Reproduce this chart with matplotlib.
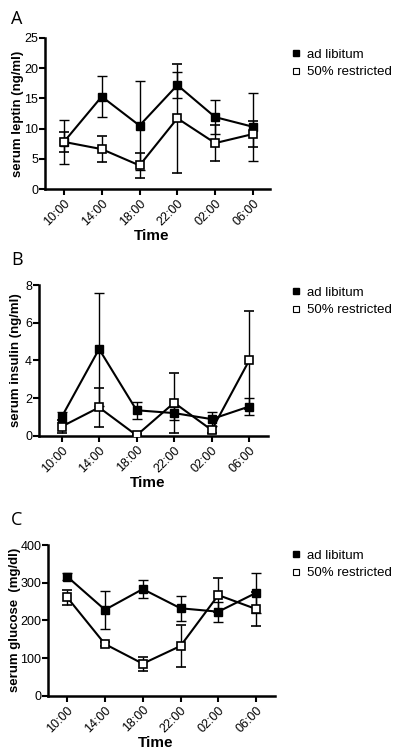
import numpy as np
import matplotlib.pyplot as plt
from matplotlib.lines import Line2D

plt.rcParams['font.family'] = ['Liberation Sans', 'DejaVu Sans']

times = ['10:00', '14:00', '18:00', '22:00', '02:00', '06:00']

# leptin (ng/ml)
leptin_adlib = [7.8, 15.3, 10.5, 17.2, 11.9, 10.3]
leptin_adlib_err = [3.6, 3.4, 7.3, 2.1, 2.8, 5.6]
leptin_restr = [7.8, 6.6, 3.9, 11.7, 7.6, 9.1]
leptin_restr_err = [1.6, 2.2, 2.1, 9.0, 3.0, 2.2]

# insulin (ng/ml)
insulin_adlib = [0.98, 4.6, 1.35, 1.2, 0.88, 1.55]
insulin_adlib_err = [0.27, 3.0, 0.45, 0.35, 0.38, 0.45]
insulin_restr = [0.48, 1.5, 0.02, 1.75, 0.3, 4.0]
insulin_restr_err = [0.33, 1.05, 0.05, 1.6, 0.15, 2.6]

# glucose (mg/dl)
glucose_adlib = [316, 228, 283, 232, 223, 273]
glucose_adlib_err = [10, 50, 25, 33, 27, 53]
glucose_restr = [261, 137, 85, 132, 267, 230]
glucose_restr_err = [20, 6, 19, 55, 46, 45]

W, H = 400, 753
fig = plt.figure(figsize=(W / 100, H / 100), dpi=100)

def px_axes(left, right, top, bottom):
    return fig.add_axes([left / W, 1 - bottom / H, (right - left) / W, (bottom - top) / H])

panels = [
    # letter, axes box, xlim, ymax, yticks, ylabel, data, letter y, time y, legend y, ylabel right edge x
    ('A', (45, 270, 38, 189), (-0.5, 5.45), 25, np.arange(0, 26, 5), 'serum leptin (ng/ml)',
     (leptin_adlib, leptin_adlib_err, leptin_restr, leptin_restr_err), 19, 236, 55, 24),
    ('B', (39, 268, 285, 435.7), (-0.6, 5.5), 8, np.arange(0, 9, 2), 'serum insulin (ng/ml)',
     (insulin_adlib, insulin_adlib_err, insulin_restr, insulin_restr_err), 260, 483, 293, 22),
    ('C', (48.3, 275, 545, 695.7), (-0.5, 5.5), 400, np.arange(0, 401, 100), 'serum glucose  (mg/dl)',
     (glucose_adlib, glucose_adlib_err, glucose_restr, glucose_restr_err), 520, 743, 556, 21),
]

x = np.arange(len(times))
for letter, box, xlim, ymax, yticks, ylabel, data, ly, ty, legy, labx in panels:
    ax = px_axes(*box)
    a, ae, r, re_ = data
    ax.errorbar(x, a, yerr=ae, fmt='-s', color='black', mfc='black', mec='black',
                ms=5.5, lw=1.5, elinewidth=1, capsize=3.5, capthick=1, zorder=3)
    ax.errorbar(x, r, yerr=re_, fmt='-s', color='black', mfc='white', mec='black',
                ms=5.5, mew=1.2, lw=1.5, elinewidth=1, capsize=3.5, capthick=1, zorder=4)
    ax.set_xlim(*xlim)
    ax.set_ylim(0, ymax)
    ax.set_yticks(yticks)
    ax.set_xticks(x)
    ax.set_xticklabels(times, rotation=45, ha='right', rotation_mode='anchor', fontsize=9)
    ax.tick_params(axis='y', labelsize=9, width=1.5, length=4, pad=1)
    ax.tick_params(axis='x', width=1.5, length=4, pad=2)
    for s in ['top', 'right']:
        ax.spines[s].set_visible(False)
    for s in ['left', 'bottom']:
        ax.spines[s].set_linewidth(1.8)
    ax.set_ylabel(ylabel, fontsize=9.5, fontweight='bold')
    ax.yaxis.set_label_coords((labx - box[0]) / (box[1] - box[0]), 0.5)
    fig.text(((box[0] + box[1]) / 2 - 6) / W, 1 - ty / H, 'Time', fontsize=11, fontweight='bold',
             ha='center', va='center')
    fig.text(11 / W, 1 - ly / H, letter, fontsize=13, family=['Open Sans', 'DejaVu Sans'],
             ha='left', va='center')
    handles = [Line2D([], [], marker='s', ls='none', color='black', mfc='black', ms=5),
               Line2D([], [], marker='s', ls='none', color='black', mfc='white', ms=5, mew=0.8)]
    fig.legend(handles, ['ad libitum', '50% restricted'], loc='center left',
               bbox_to_anchor=(291 / W, 1 - (legy + 8.5) / H), frameon=False, fontsize=9.5,
               handlelength=0.7, handletextpad=0.5, labelspacing=0.4, borderpad=0, borderaxespad=0)

fig.savefig('out.png', dpi=100)
